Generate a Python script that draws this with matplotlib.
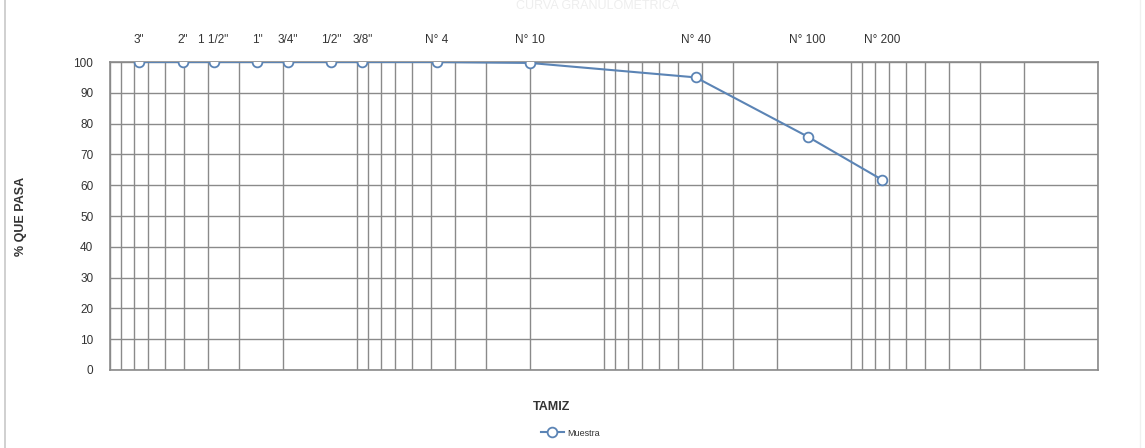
import matplotlib
matplotlib.use("Agg")
import matplotlib.pyplot as plt
import matplotlib.transforms as mtransforms
from matplotlib.ticker import LogLocator, NullFormatter, FixedLocator

plt.rcParams['font.family'] = ['Liberation Sans', 'DejaVu Sans']

# Data
sieve_labels = ['3"', '2"', '1 1/2"', '1"', '3/4"', '1/2"', '3/8"',
                'N° 4', 'N° 10', 'N° 40', 'N° 100', 'N° 200']
sieve_mm = [76.2, 50.8, 38.1, 25.4, 19.05, 12.7, 9.525,
            4.76, 2.00, 0.425, 0.15, 0.075]
pct_passing = [100, 100, 100, 100, 100, 100, 100,
               100, 99.7, 95.0, 75.8, 61.8]
y_ticks = [0, 10, 20, 30, 40, 50, 60, 70, 80, 90, 100]

W, H = 1145, 448
fig = plt.figure(figsize=(W / 100, H / 100), dpi=100)
ax = fig.add_axes([110 / W, 1 - 370 / H, (1098 - 110) / W, (370 - 62) / H])

line_color = '#5b84b5'
ax.plot(sieve_mm, pct_passing, color=line_color, lw=1.5, marker='o',
        markersize=7, markerfacecolor='white', markeredgecolor=line_color,
        markeredgewidth=1.3, label='Muestra', zorder=3)

ax.set_xscale('log')
ax.set_xlim(100, 0.01)
ax.set_ylim(0, 100)
ax.set_yticks(y_ticks)
ax.xaxis.set_major_locator(LogLocator(base=10, numticks=10))
ax.xaxis.set_minor_locator(LogLocator(base=10, subs=range(2, 10), numticks=20))
ax.xaxis.set_major_formatter(NullFormatter())
ax.xaxis.set_minor_formatter(NullFormatter())
ax.tick_params(axis='x', which='both', length=0)
ax.tick_params(axis='y', length=0, pad=12, labelsize=8.5, labelcolor='#333333')

grid_c = '#8a8a8a'
ax.grid(True, which='major', axis='both', color=grid_c, lw=1.0)
ax.grid(True, which='minor', axis='x', color=grid_c, lw=1.0)
ax.set_axisbelow(True)
for s in ax.spines.values():
    s.set_color('#8a8a8a')
    s.set_linewidth(1.2)

# Sieve labels above plot
trans = mtransforms.blended_transform_factory(ax.transData, ax.transAxes)
for lab, x in zip(sieve_labels, sieve_mm):
    ax.text(x, 1.071, lab, transform=trans, ha='center', va='center',
            fontsize=8.5, color='#333333')

ax.set_ylabel('% QUE PASA', fontsize=9, fontweight='bold', color='#333333')
ax.yaxis.set_label_coords((27 - 110) / (1098 - 110), 0.5)

fig.text(552 / W, 1 - 407 / H, 'TAMIZ', ha='center', va='center',
         fontsize=9, fontweight='bold', color='#333333')

leg = fig.legend(loc='center', bbox_to_anchor=(570 / W, 1 - 433 / H),
                 frameon=False, fontsize=6.5, handlelength=2.6,
                 handletextpad=0.3, borderpad=0)
for t in leg.get_texts():
    t.set_color('#333333')

fig.text(598 / W, 1 - 6 / H, 'CURVA GRANULOMÉTRICA', ha='center', va='center',
         fontsize=9, color='#eeeeee')

# faint page frame lines
fig.add_artist(plt.Line2D([5 / W, 5 / W], [0, 1], color='#c8c8c8', lw=1.2))
fig.add_artist(plt.Line2D([1140 / W, 1140 / W], [0, 1], color='#f0f0f0', lw=1.0))

fig.savefig('out.png', dpi=100)
